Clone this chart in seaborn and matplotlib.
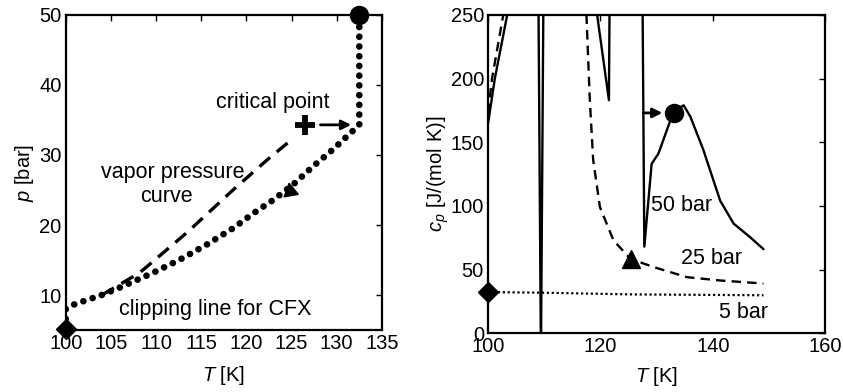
import matplotlib
matplotlib.use("Agg")
import matplotlib.pyplot as plt
import seaborn as sns
import pandas as pd

# ---- data: left panel (p-T diagram) ----
T_clip = [100, 100, 101.0, 104.2, 106.4, 109.7, 112.7, 115.6, 118.6, 120.8, 123.0, 125.2, 127.4, 129.6, 131.5, 132.5, 132.5]
p_clip = [5.2, 8.0, 8.7, 10.1, 11.3, 13.2, 15.1, 17.2, 19.6, 21.7, 23.6, 25.8, 28.4, 30.8, 33.1, 34.3, 50.0]
T_vap = [104.0, 108.2, 113.4, 118.6, 122.3, 125.2]
p_vap = [10.0, 13.2, 18.9, 25.1, 29.3, 32.4]
crit_T, crit_p = 126.5, 34.3
left_xticks = [100, 105, 110, 115, 120, 125, 130, 135]
left_yticks = [10, 20, 30, 40, 50]

# ---- data: right panel (cp-T) ----
T50 = [100, 101.2, 103.4, 106, 108.9, 109.4, 109.9, 114, 119.4, 121.5, 121.6, 125, 127.5, 127.8, 129.1, 130.3, 133.0, 134.8, 136.0, 138.3, 141.3, 143.7, 146.6, 149.0]
cp50 = [165, 200, 250, 400, 300, -20, 300, 400, 250, 183, 250, 400, 250, 68, 133, 141, 174, 179, 170, 144, 104, 86, 75.5, 66]
T25 = [100, 100.7, 102.7, 105, 115, 117.5, 118.1, 118.7, 119.9, 122.3, 125.3, 129.4, 135.4, 141.3, 149.0]
cp25 = [173, 200, 250, 400, 400, 250, 183, 136, 99, 73, 58.5, 52, 44, 41.4, 39]
T5 = [100, 110, 125, 149]
cp5 = [32.3, 31.8, 30.5, 29.8]
right_xticks = [100, 120, 140, 160]
right_yticks = [0, 50, 100, 150, 200, 250]

sns.set_theme(style="white")
plt.rcParams['font.family'] = ['Liberation Sans', 'DejaVu Sans']
plt.rcParams['mathtext.fontset'] = 'custom'
plt.rcParams['mathtext.rm'] = 'Liberation Sans'
plt.rcParams['mathtext.it'] = 'Liberation Sans:italic'
for k in ['text.color', 'axes.labelcolor', 'xtick.color', 'ytick.color']:
    plt.rcParams[k] = 'black'

FS = 14.5
TFS = 15.5
fig = plt.figure(figsize=(8.43, 3.92), dpi=100)
ax1 = fig.add_axes([0.078, 0.158, 0.375, 0.804])
ax2 = fig.add_axes([0.579, 0.150, 0.400, 0.812])

def style(ax):
    for s in ax.spines.values():
        s.set_linewidth(1.6)
        s.set_color('black')
        s.set_visible(True)
    ax.tick_params(direction='in', length=4, width=1.0, top=True, right=True,
                   labelsize=FS, colors='black', pad=3)

# left panel
d1 = pd.DataFrame({'T': T_clip, 'p': p_clip})
sns.lineplot(data=d1, x='T', y='p', sort=False, estimator=None, ax=ax1,
             color='black', lw=4.8, dashes=False)
ln = ax1.lines[-1]
ln.set_dashes((0.01, 1.45))
ln.set_dash_capstyle('round')
d2 = pd.DataFrame({'T': T_vap, 'p': p_vap})
sns.lineplot(data=d2, x='T', y='p', sort=False, estimator=None, ax=ax1, color='black', lw=2.4)
ax1.lines[-1].set_dashes((4.2, 2.6))
ax1.plot([crit_T], [crit_p], marker='+', ms=14, mew=4.2, color='black', ls='none')
ax1.plot([T_clip[0]], [p_clip[0]], marker='D', ms=10, color='black', ls='none', clip_on=False)
ax1.plot([T_clip[-1]], [p_clip[-1]], marker='o', ms=13, color='black', ls='none', clip_on=False)
ax1.plot([124.8], [24.8], marker=(3, 0, 130), ms=12, color='black', ls='none')
ax1.annotate('', xy=(131.6, crit_p), xytext=(128.2, crit_p),
             arrowprops=dict(arrowstyle='-|>', color='black', lw=2.0,
                             mutation_scale=14, shrinkA=0, shrinkB=0))
ax1.text(122.9, 37.5, 'critical point', fontsize=TFS, ha='center', va='center')
ax1.text(111.9, 27.5, 'vapor pressure', fontsize=TFS, ha='center', va='center')
ax1.text(111.2, 24.0, 'curve', fontsize=TFS, ha='center', va='center')
ax1.text(116.6, 8.0, 'clipping line for CFX', fontsize=TFS, ha='center', va='center')
ax1.set_xlim(100, 135)
ax1.set_ylim(5, 50)
ax1.set_xticks(left_xticks)
ax1.set_yticks(left_yticks)
ax1.set_xlabel('$T$ [K]', fontsize=FS, labelpad=8)
ax1.set_ylabel('$p$ [bar]', fontsize=FS, labelpad=2)
style(ax1)

# right panel
d50 = pd.DataFrame({'T': T50, 'cp': cp50})
sns.lineplot(data=d50, x='T', y='cp', sort=False, estimator=None, ax=ax2, color='black', lw=1.7)
d25 = pd.DataFrame({'T': T25, 'cp': cp25})
sns.lineplot(data=d25, x='T', y='cp', sort=False, estimator=None, ax=ax2, color='black', lw=1.7)
ax2.lines[-1].set_dashes((4.0, 2.6))
d5 = pd.DataFrame({'T': T5, 'cp': cp5})
sns.lineplot(data=d5, x='T', y='cp', sort=False, estimator=None, ax=ax2, color='black', lw=1.6)
ax2.lines[-1].set_dashes((1.0, 1.2))
ax2.plot([T5[0]], [cp5[0]], marker='D', ms=10, color='black', ls='none', clip_on=False)
ax2.plot([125.4], [58.5], marker='^', ms=13, color='black', ls='none')
ax2.plot([133.1], [173], marker='o', ms=13, color='black', ls='none')
ax2.annotate('', xy=(131.0, 173), xytext=(127.6, 173),
             arrowprops=dict(arrowstyle='-|>', color='black', lw=2.0,
                             mutation_scale=14, shrinkA=0, shrinkB=0))
ax2.text(134.5, 100.5, '50 bar', fontsize=TFS, ha='center', va='center')
ax2.text(139.8, 58.5, '25 bar', fontsize=TFS, ha='center', va='center')
ax2.text(145.5, 16.5, '5 bar', fontsize=TFS, ha='center', va='center')
ax2.set_xlim(100, 160)
ax2.set_ylim(0, 250)
ax2.set_xticks(right_xticks)
ax2.set_yticks(right_yticks)
ax2.set_xlabel('$T$ [K]', fontsize=FS, labelpad=6)
ax2.set_ylabel('$c_p$ [J/(mol K)]', fontsize=FS, labelpad=0)
style(ax2)

fig.savefig('out.png', dpi=100)
